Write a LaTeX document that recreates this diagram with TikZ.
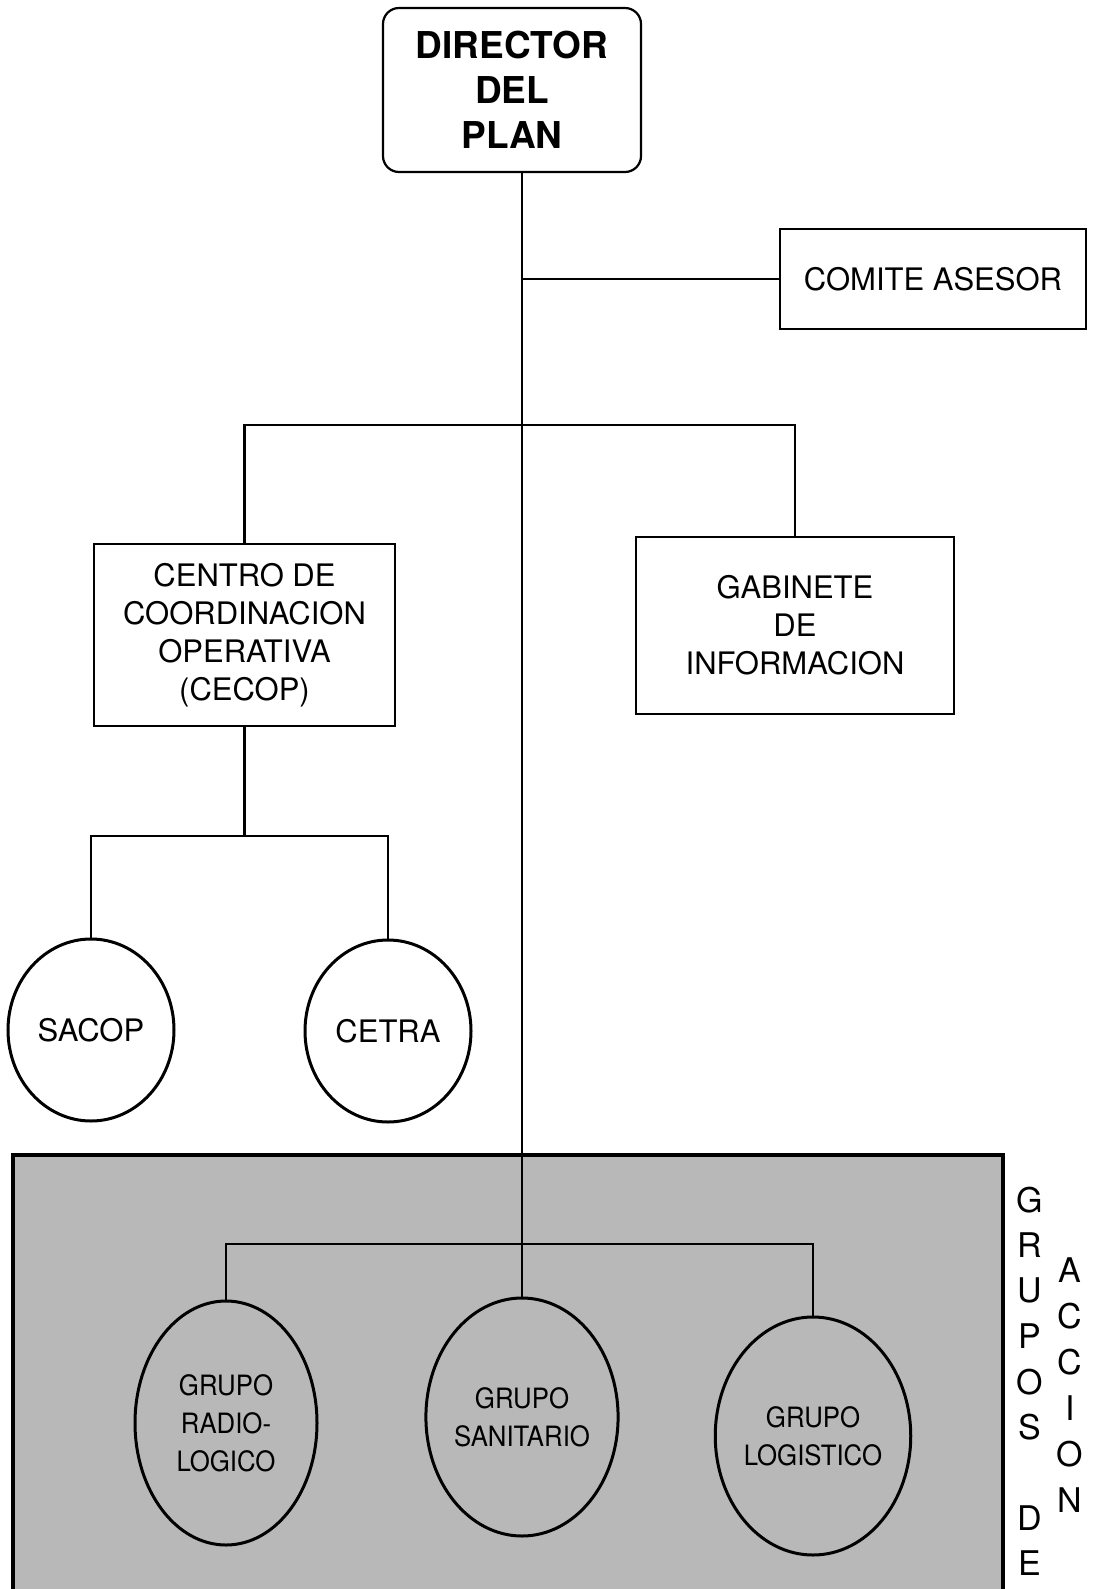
\documentclass[tikz,border=0pt]{standalone}
\usepackage{fontspec}
\setmainfont{TeX Gyre Heros}
\newfontfamily\narrowfont[FakeStretch=0.92]{TeX Gyre Heros}
\usetikzlibrary{shapes.geometric}

\begin{document}
\begin{tikzpicture}[x=0.5pt, y=-0.5pt, line width=1.2pt,
  box/.style={draw, line width=1.1pt, align=center, inner sep=0pt,
    font=\fontsize{15.5}{19}\selectfont},
  oval/.style={draw, ellipse, line width=1.5pt, inner sep=0pt, align=center,
    font=\fontsize{15.5}{19}\selectfont},
  grupo/.style={oval, minimum width=91pt, minimum height=119pt,
    font=\narrowfont\fontsize{14}{19}\selectfont},
  letra/.style={inner sep=0pt, font=\fontsize{17}{17}\selectfont}]
  \useasboundingbox (0,0) rectangle (1093,1589);

  % Grupos de accion (shaded area)
  \draw[line width=1.6pt, fill=black!28] (13,1600) -- (13,1155) -- (1003,1155) -- (1003,1600);

  % Director
  \node[box, rounded corners=8pt, minimum width=129pt, minimum height=82pt,
    font=\bfseries\fontsize{18.5}{22.5}\selectfont] (dir) at (512,90) {DIRECTOR\\DEL\\PLAN};

  % Comite and first level
  \node[box, minimum width=153pt, minimum height=50pt] (comite) at (933,279) {COMITE ASESOR};
  \node[box, minimum width=150.5pt, minimum height=91pt] (cecop) at (244.5,635)
    {CENTRO DE\\COORDINACION\\OPERATIVA\\(CECOP)};
  \node[box, minimum width=159pt, minimum height=88.5pt] (gab) at (795,625.5)
    {GABINETE\\DE\\INFORMACION};

  % Under CECOP
  \node[oval, minimum width=83pt, minimum height=91pt] (sacop) at (91,1030) {SACOP};
  \node[oval, minimum width=83pt, minimum height=91pt] (cetra) at (388,1031) {CETRA};

  % Grupos
  \node[grupo, minimum height=122pt] (radio) at (226,1423) {GRUPO\\RADIO-\\LOGICO};
  \node[grupo] (sanit) at (522,1417) {GRUPO\\SANITARIO};
  \node[grupo] (logis) at (813,1436) {GRUPO\\LOGISTICO};

  % Connectors
  \coordinate (bar) at (0,425);
  \coordinate (sub) at (0,836);
  \coordinate (gbar) at (0,1244);
  \draw (dir.south -| sanit.north) -- (sanit.north);
  \draw (comite.west) -- (comite.west -| sanit.north);
  \draw (cecop.north) -- (cecop.north |- bar) -- (gab.north |- bar) -- (gab.north);
  \draw (cecop.south) -- (cecop.south |- sub);
  \draw (sacop.north) -- (sacop.north |- sub) -- (cetra.north |- sub) -- (cetra.north);
  \draw (radio.north) -- (radio.north |- gbar) -- (logis.north |- gbar) -- (logis.north);

  % Side label
  \foreach \l/\k in {G/0,R/1,U/2,P/3,O/4,S/5,D/7,E/8}
    \node[letra] (gr\k) at (1030,1200+45.4*\k) {\l};
  \foreach \l/\k in {A/0,C/1,C/2,I/3,O/4,N/5}
    \node[letra] (ac\k) at (1070,1270+46*\k) {\l};
\end{tikzpicture}
\end{document}
